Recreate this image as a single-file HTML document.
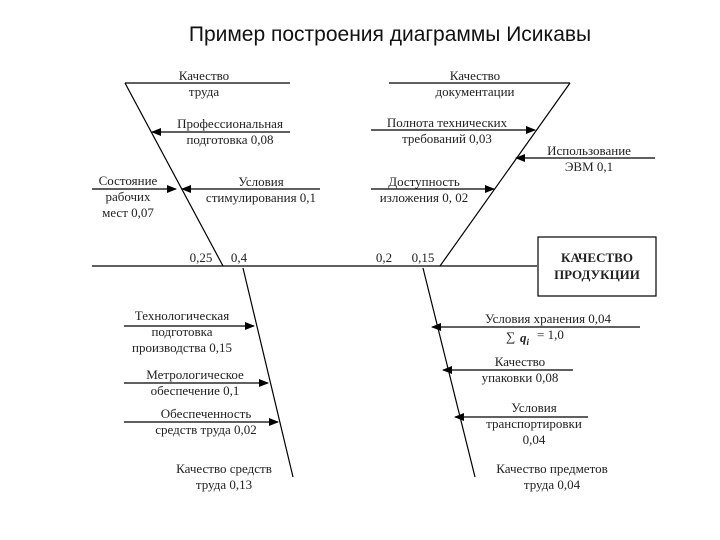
<!DOCTYPE html>
<html><head><meta charset="utf-8"><style>
html,body{margin:0;padding:0;background:#fff;}
svg{display:block}
.t{font-family:"Liberation Serif","DejaVu Serif",serif;font-size:13px;fill:#222;}
.h{font-family:"Liberation Sans",Arial,sans-serif;font-size:21px;fill:#111;}
line{stroke:#000;stroke-width:1.2}
</style></head><body>
<svg width="720" height="540" viewBox="0 0 720 540" xmlns="http://www.w3.org/2000/svg">
<defs><marker id="a" markerWidth="10" markerHeight="8" refX="9" refY="4" orient="auto" markerUnits="userSpaceOnUse"><path d="M0,0 L10,4 L0,8 z" fill="#000"/></marker></defs>
<text class="h" x="390" y="41" text-anchor="middle">Пример построения диаграммы Исикавы</text>
<!-- main -->
<line x1="92" y1="266" x2="537" y2="266"/>
<rect x="538" y="237" width="118" height="59" fill="none" stroke="#000" stroke-width="1.2"/>
<text class="t" x="597" y="262" text-anchor="middle" font-weight="bold">КАЧЕСТВО</text>
<text class="t" x="597" y="279" text-anchor="middle" font-weight="bold">ПРОДУКЦИИ</text>
<!-- spines -->
<line x1="125" y1="83" x2="223" y2="266"/>
<line x1="243" y1="268" x2="293" y2="477"/>
<line x1="570" y1="83" x2="440" y2="266"/>
<line x1="423" y1="268" x2="475" y2="477"/>
<line x1="125" y1="83" x2="290" y2="83"/>
<line x1="389" y1="83" x2="570" y2="83"/>
<!-- left upper -->
<line x1="290" y1="132" x2="152" y2="132" marker-end="url(#a)"/>
<line x1="320" y1="189" x2="182" y2="189" marker-end="url(#a)"/>
<line x1="92" y1="189" x2="176" y2="189" marker-end="url(#a)"/>
<!-- right upper -->
<line x1="371" y1="130" x2="535" y2="130" marker-end="url(#a)"/>
<line x1="655" y1="158" x2="516" y2="158" marker-end="url(#a)"/>
<line x1="371" y1="189" x2="494" y2="189" marker-end="url(#a)"/>
<!-- left lower -->
<line x1="124" y1="326" x2="254" y2="326" marker-end="url(#a)"/>
<line x1="124" y1="383" x2="268" y2="383" marker-end="url(#a)"/>
<line x1="124" y1="422" x2="278" y2="422" marker-end="url(#a)"/>
<!-- right lower -->
<line x1="640" y1="327" x2="432" y2="327" marker-end="url(#a)"/>
<line x1="573" y1="370" x2="443" y2="370" marker-end="url(#a)"/>
<line x1="588" y1="417" x2="455" y2="417" marker-end="url(#a)"/>
<!-- texts -->
<g class="t" text-anchor="middle">
<text x="204" y="80">Качество</text><text x="204" y="96">труда</text>
<text x="475" y="80">Качество</text><text x="475" y="96">документации</text>
<text x="230" y="128">Профессиональная</text><text x="230" y="144">подготовка 0,08</text>
<text x="447" y="127">Полнота технических</text><text x="447" y="143">требований 0,03</text>
<text x="589" y="155">Использование</text><text x="589" y="171">ЭВМ 0,1</text>
<text x="128" y="185">Состояние</text><text x="128" y="201">рабочих</text><text x="128" y="217">мест 0,07</text>
<text x="261" y="186">Условия</text><text x="261" y="202">стимулирования 0,1</text>
<text x="424" y="186">Доступность</text><text x="424" y="202">изложения 0, 02</text>
<text x="201" y="262">0,25</text><text x="239" y="262">0,4</text>
<text x="384" y="262">0,2</text><text x="423" y="262">0,15</text>
<text x="182" y="320">Технологическая</text><text x="182" y="336">подготовка</text><text x="182" y="352">производства 0,15</text>
<text x="195" y="379">Метрологическое</text><text x="195" y="395">обеспечение 0,1</text>
<text x="206" y="418">Обеспеченность</text><text x="206" y="434">средств труда 0,02</text>
<text x="224" y="473">Качество средств</text><text x="224" y="489">труда 0,13</text>
<text x="548" y="323">Условия хранения 0,04</text>
<text x="520" y="366">Качество</text><text x="520" y="382">упаковки 0,08</text>
<text x="534" y="412">Условия</text><text x="534" y="428">транспортировки</text><text x="534" y="444">0,04</text>
<text x="552" y="473">Качество предметов</text><text x="552" y="489">труда 0,04</text>
</g>
<text class="t" x="506" y="341" font-size="20">∑</text>
<text class="t" x="520" y="342" font-weight="bold" font-style="italic" font-size="13">q<tspan font-size="9" dy="3">i</tspan></text>
<text class="t" x="537" y="339" font-size="14">= 1,0</text>
</svg>
</body></html>
